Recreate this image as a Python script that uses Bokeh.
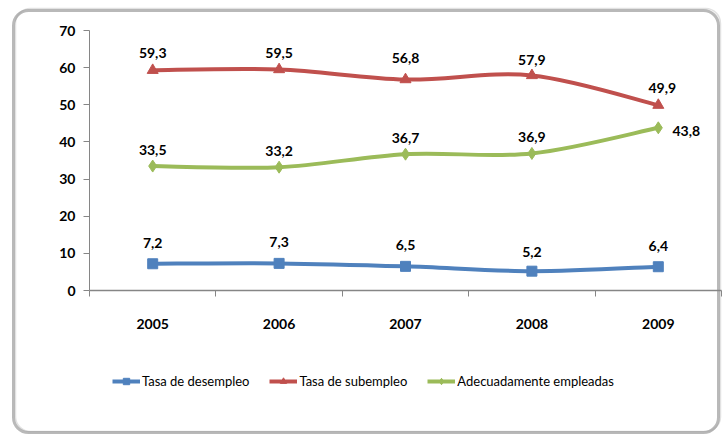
from bokeh.plotting import figure
from bokeh.models import (Range1d, FixedTicker, Legend, LegendItem, ColumnDataSource,
                          BoxAnnotation)
from bokeh.embed import file_html
from bokeh.resources import INLINE
from bokeh.core.properties import value

# ---- data ----
years = ["2005", "2006", "2007", "2008", "2009"]
desempleo = [7.2, 7.3, 6.5, 5.2, 6.4]
subempleo = [59.3, 59.5, 56.8, 57.9, 49.9]
adecuado = [33.5, 33.2, 36.7, 36.9, 43.8]
series_names = ["Tasa de desempleo", "Tasa de subempleo", "Adecuadamente empleadas"]
y_ticks = [0, 10, 20, 30, 40, 50, 60, 70]

colors = ["#4F81BD", "#C0504D", "#9BBB59"]
markers = ["square", "triangle", "diamond"]
marker_sizes = [10, 11, 12]
FONT = "Lato"
AXIS_COLOR = "#868686"

W, H = 722, 434
# plot area placement in pixels (frame covers the whole canvas)
PX_LEFT, PX_RIGHT, PX_TOP, PX_ZERO = 89, 721, 30, 290
Y_MAX = 70

n = len(years)
xs = list(range(n))
ppx = (PX_RIGHT - PX_LEFT) / n
ppy = (PX_ZERO - PX_TOP) / Y_MAX
x_start = -0.5 - PX_LEFT / ppx
x_end = n - 0.5 + (W - PX_RIGHT) / ppx
y_end = Y_MAX + PX_TOP / ppy
y_start = -(H - PX_ZERO) / ppy


def smooth_segments(x, y):
    """Catmull-Rom style bezier control points (Excel-like smoothing)."""
    m = len(x)
    d = dict(x0=[], y0=[], x1=[], y1=[], cx0=[], cy0=[], cx1=[], cy1=[])
    for i in range(m - 1):
        ip = max(i - 1, 0)
        iq = min(i + 2, m - 1)
        d["x0"].append(x[i]); d["y0"].append(y[i])
        d["x1"].append(x[i + 1]); d["y1"].append(y[i + 1])
        d["cx0"].append(x[i] + (x[i + 1] - x[ip]) / 6)
        d["cy0"].append(y[i] + (y[i + 1] - y[ip]) / 6)
        d["cx1"].append(x[i + 1] - (x[iq] - x[i]) / 6)
        d["cy1"].append(y[i + 1] - (y[iq] - y[i]) / 6)
    return ColumnDataSource(d)


p = figure(width=W, height=H,
           x_range=Range1d(x_start, x_end), y_range=Range1d(y_start, y_end),
           output_backend="svg", toolbar_location=None,
           min_border_left=0, min_border_right=0,
           min_border_top=0, min_border_bottom=0)
p.xgrid.visible = False
p.ygrid.visible = False
p.outline_line_color = None
p.background_fill_color = "white"
p.border_fill_color = "white"

# rounded frame around the whole chart (with a soft shadow at left/bottom)
shadow = BoxAnnotation(left=13, right=718, top=10, bottom=432,
                       left_units="canvas", right_units="canvas",
                       top_units="canvas", bottom_units="canvas",
                       fill_alpha=0, line_color="#7F7F7F", line_width=3, line_alpha=0.55,
                       border_radius=15, level="underlay")
frame = BoxAnnotation(left=15, right=720, top=8, bottom=431,
                      left_units="canvas", right_units="canvas",
                      top_units="canvas", bottom_units="canvas",
                      fill_alpha=0, line_color="#A0A0A0", line_width=1.5,
                      border_radius=15, level="underlay")
p.add_layout(shadow)
p.add_layout(frame)

xa = p.xaxis[0]
xa.fixed_location = 0
xa.bounds = (-0.5, n - 0.5)
xa.ticker = FixedTicker(ticks=xs, minor_ticks=[i - 0.5 for i in range(n + 1)])
xa.major_label_overrides = {i: y for i, y in enumerate(years)}
xa.major_tick_out = 0
xa.major_tick_in = 0
xa.minor_tick_out = 6
xa.minor_tick_in = 0
xa.minor_tick_line_color = AXIS_COLOR
xa.axis_line_color = AXIS_COLOR
xa.axis_line_width = 1.5
xa.major_label_standoff = 22
xa.major_label_text_font = FONT
xa.major_label_text_font_style = "bold"
xa.major_label_text_font_size = "14px"
xa.major_label_text_color = "black"

ya = p.yaxis[0]
ya.fixed_location = -0.5
ya.bounds = (0, Y_MAX)
ya.ticker = FixedTicker(ticks=y_ticks, minor_ticks=[])
ya.major_tick_out = 6
ya.major_tick_in = 0
ya.major_tick_line_color = AXIS_COLOR
ya.axis_line_color = AXIS_COLOR
ya.major_label_standoff = 8
ya.major_label_text_font = FONT
ya.major_label_text_font_style = "bold"
ya.major_label_text_font_size = "14px"
ya.major_label_text_color = "black"

all_series = [desempleo, subempleo, adecuado]
label_dy = [[-21, -21, -21, -19, -21],
            [-17, -17, -22, -15, -17],
            [-16, -16, -16, -16, 3]]
label_dx = [[0, 0, 0, 0, 0],
            [0, 0, 0, 0, 4],
            [0, 0, 0, 0, 28]]

items = []
for vals, name, c, m, ms, dys, dxs in zip(all_series, series_names, colors, markers,
                                           marker_sizes, label_dy, label_dx):
    r_line = p.bezier(x0="x0", y0="y0", x1="x1", y1="y1", cx0="cx0", cy0="cy0",
                      cx1="cx1", cy1="cy1", source=smooth_segments(xs, vals),
                      line_color=c, line_width=4)
    r_mk = p.scatter(xs, vals, marker=m, size=ms, fill_color=c, line_color=c)
    lsrc = ColumnDataSource(dict(x=xs, y=vals,
                                 t=[f"{v:.1f}".replace(".", ",") for v in vals],
                                 dx=dxs, dy=dys))
    p.text(x="x", y="y", text="t", x_offset="dx", y_offset="dy", source=lsrc,
           text_align="center", text_baseline="middle",
           text_font=value(FONT), text_font_style="bold", text_font_size="14px",
           text_color="black")
    items.append(LegendItem(label=name, renderers=[r_line, r_mk]))

legend = Legend(items=items, orientation="horizontal", location=(112, 45),
                glyph_width=28, glyph_height=16, label_standoff=2, spacing=20,
                padding=0, margin=0, border_line_alpha=0, background_fill_alpha=0,
                label_text_font=FONT, label_text_font_size="13px",
                label_text_color="black")
p.add_layout(legend)

open("out.html", "w").write(file_html(p, INLINE))
